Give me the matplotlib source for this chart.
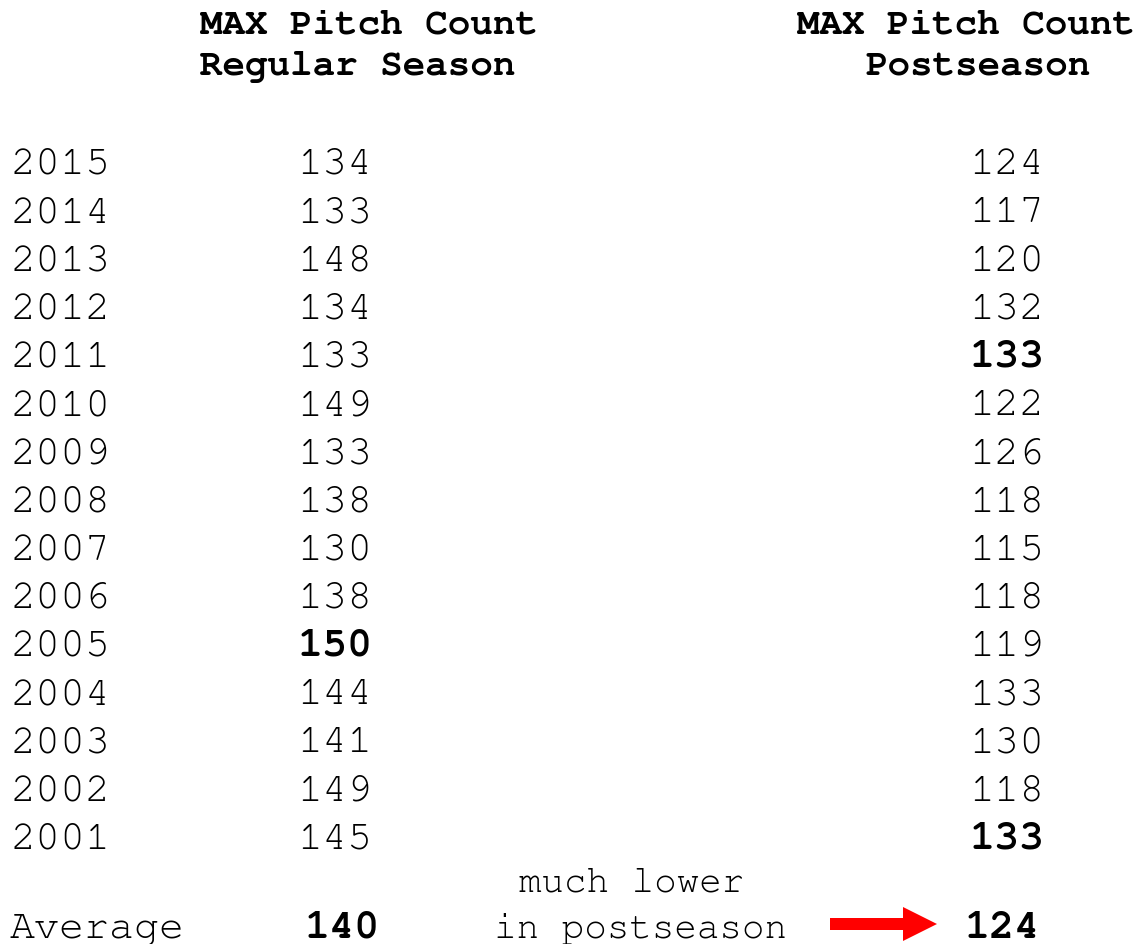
import matplotlib
matplotlib.use("Agg")
import matplotlib.pyplot as plt

# Table data
years = [2015, 2014, 2013, 2012, 2011, 2010, 2009, 2008, 2007, 2006,
         2005, 2004, 2003, 2002, 2001]
regular = [134, 133, 148, 134, 133, 149, 133, 138, 130, 138,
           150, 144, 141, 149, 145]
postseason = [124, 117, 120, 132, 133, 122, 126, 118, 115, 118,
              119, 133, 130, 118, 133]
regular_bold = [2005]
post_bold = [2011, 2001]
regular_avg = 140
post_avg = 124
header_regular = ["MAX Pitch Count", "Regular Season"]
header_post = ["MAX Pitch Count", "Postseason"]
note = ["much lower", "in postseason"]

plt.rcParams["font.family"] = ["FreeMono", "Liberation Mono", "DejaVu Sans Mono"]

fig = plt.figure(figsize=(11.4, 9.45), dpi=100)
ax = fig.add_axes([0, 0, 1, 1])
ax.set_xlim(0, 1140)
ax.set_ylim(945, 0)
ax.axis("off")

# column layout (pixels)
x_year = 10
x_reg = 335
x_post = 1044
row0 = 174
row_h = 48.2
fs = 30
hfs = 27

# headers
ax.text(200, 33, header_regular[0], fontsize=hfs, fontweight="bold", va="baseline", ha="left")
ax.text(200, 75, header_regular[1], fontsize=hfs, fontweight="bold", va="baseline", ha="left")
ax.text(966, 33, header_post[0], fontsize=hfs, fontweight="bold", va="baseline", ha="center")
ax.text(978, 75, header_post[1], fontsize=hfs, fontweight="bold", va="baseline", ha="center")

for i, (yr, r, p) in enumerate(zip(years, regular, postseason)):
    y = row0 + i * row_h
    ax.text(x_year, y, str(yr), fontsize=fs, va="baseline", ha="left")
    ax.text(x_reg, y, str(r), fontsize=fs, va="baseline", ha="center",
            fontweight="bold" if yr in regular_bold else "normal")
    ax.text(x_post, y, str(p), fontsize=fs, va="baseline", ha="right",
            fontweight="bold" if yr in post_bold else "normal")

# average row
y_avg = 938
ax.text(x_year, y_avg, "Average", fontsize=fs, va="baseline", ha="left")
ax.text(342, y_avg, str(regular_avg), fontsize=fs, fontweight="bold", va="baseline", ha="center")
ax.text(x_post - 4, y_avg, str(post_avg), fontsize=fs, fontweight="bold", va="baseline", ha="right")
ax.text(632, 891, note[0], fontsize=hfs, va="baseline", ha="center")
ax.text(641, 938, note[1], fontsize=hfs, va="baseline", ha="center")

# red arrow
ax.arrow(830, 925, 107, 0, width=12, head_width=34, head_length=34,
         length_includes_head=True, color="red", lw=0)

fig.savefig("out.png", dpi=100)
